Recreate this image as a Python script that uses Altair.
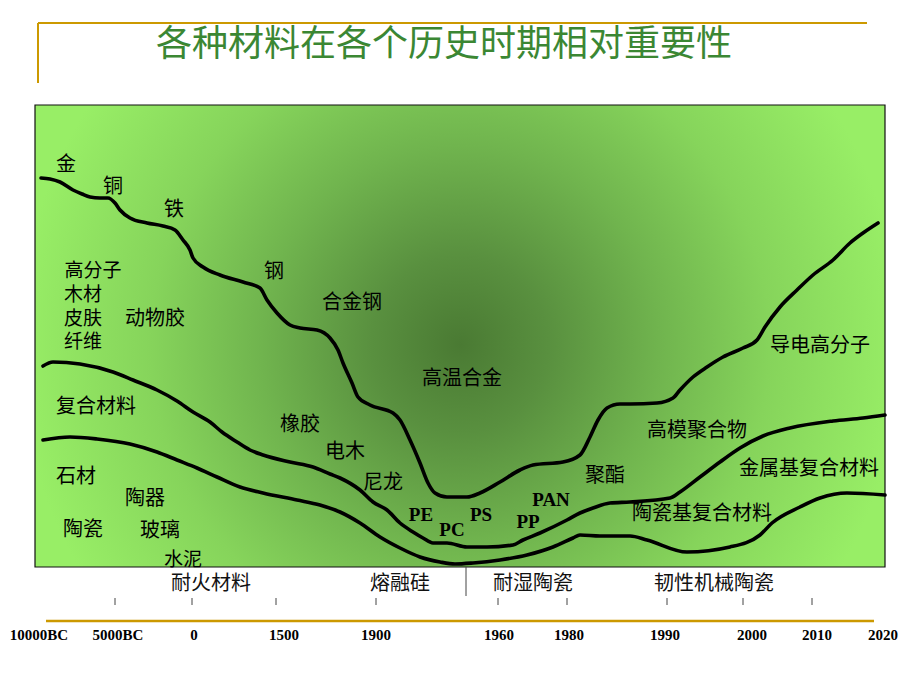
import altair as alt
import pandas as pd

# ---------------- data (x = timeline position, y = relative importance) ----------------
metal_x = [6, 15, 25, 38, 47, 55, 65, 73, 80, 85, 95, 112, 128, 140, 148, 155, 158, 168, 185, 208,
           225, 232, 242, 255, 265, 282, 295, 303, 308, 317, 323, 335, 358, 365, 375, 385, 393, 400,
           412, 432, 445, 465, 485, 498, 528, 545, 555, 563, 572, 585, 595, 622, 638, 645, 658, 672,
           688, 708, 722, 730, 745, 762, 778, 798, 815, 828, 843]
metal_y = [389, 388, 385, 377, 373, 370, 369, 369, 364, 357, 349, 344, 341, 337, 327, 317, 309, 300,
           292, 285, 279, 267, 254, 242, 239, 237, 229, 217, 204, 184, 170, 162, 154, 147, 127, 104,
           84, 74, 70, 70, 74, 85, 97, 102, 105, 112, 130, 147, 159, 163, 163, 164, 169, 177, 190,
           200, 210, 219, 227, 240, 260, 277, 292, 307, 324, 334, 344]

poly_x = [8, 18, 45, 78, 98, 122, 142, 158, 175, 187, 202, 215, 228, 255, 278, 295, 305, 325, 338,
          352, 365, 378, 388, 398, 412, 432, 452, 478, 488, 505, 532, 545, 558, 575, 595, 635, 645,
          665, 685, 705, 728, 755, 798, 828, 850]
poly_y = [201, 205, 203, 195, 187, 177, 166, 155, 145, 135, 125, 117, 112, 105, 100, 93, 89, 77, 65,
          57, 44, 35, 29, 24, 24, 20, 20, 22, 27, 34, 47, 54, 59, 64, 65, 69, 75, 90, 105, 119, 131,
          139, 146, 149, 152]

cer_x = [8, 35, 62, 95, 122, 142, 162, 182, 205, 228, 262, 285, 305, 325, 345, 365, 385, 405, 420,
         438, 465, 492, 518, 538, 545, 565, 595, 612, 652, 695, 725, 737, 765, 785, 812, 850]
cer_y = [127, 130, 128, 123, 115, 107, 99, 90, 80, 74, 67, 62, 55, 44, 30, 19, 10, 5, 3, 4, 7, 12,
         20, 29, 32, 31, 31, 27, 15, 20, 32, 44, 60, 69, 74, 72]

cjk_labels = ["金", "铜", "铁", "钢", "合金钢", "高温合金", "动物胶",
              "复合材料", "橡胶", "电木", "尼龙", "聚酯", "高模聚合物", "导电高分子", "金属基复合材料",
              "陶瓷基复合材料", "石材", "陶器", "陶瓷", "玻璃"]
cjk_x = [31, 78, 139, 239, 317, 427, 120, 61, 265, 310, 348, 570, 662, 785, 774,
         667, 41, 110, 48, 125]
cjk_y = [402, 380, 357, 295, 264, 188, 248, 160, 142, 115, 84, 91, 136, 221, 98,
         53, 90, 68, 37, 36]

stack_labels = ["高分子", "木材", "皮肤", "纤维", "水泥"]
stack_x = [58, 48, 48, 48, 148]
stack_y = [296, 272, 248, 225, 7]

latin_labels = ["PE", "PC", "PS", "PP", "PAN"]
latin_x = [386, 417, 446, 493, 516]
latin_y = [52, 37, 52, 45, 67]

tick_x = [80, 157, 241, 341, 463, 532, 632, 708, 777]
year_labels = ["10000BC", "5000BC", "0", "1500", "1900", "1960", "1980", "1990", "2000", "2010", "2020"]
year_x = [4, 83, 159, 249, 341, 464, 534, 630, 717, 782, 848]

era_labels = ["耐火材料", "熔融硅", "耐湿陶瓷", "韧性机械陶瓷"]
era_x = [176, 365, 498, 679]

title_text = "各种材料在各个历史时期相对重要性"

# ---------------- build ----------------
W, H = 850, 462
xs = alt.Scale(domain=[0, W], nice=False, zero=False)
ys = alt.Scale(domain=[0, H], nice=False, zero=False)

def X(f):
    return alt.X(f, scale=xs, axis=None)

def Y(f):
    return alt.Y(f, scale=ys, axis=None)

curves = pd.concat([
    pd.DataFrame({"curve": "metal", "x": metal_x, "y": metal_y, "o": range(len(metal_x))}),
    pd.DataFrame({"curve": "poly", "x": poly_x, "y": poly_y, "o": range(len(poly_x))}),
    pd.DataFrame({"curve": "cer", "x": cer_x, "y": cer_y, "o": range(len(cer_x))}),
])

one = pd.DataFrame({"a": [0]})

gradient = {
    "gradient": "radial",
    "x1": 0.5, "y1": 0.51, "r1": 0,
    "x2": 0.5, "y2": 0.51, "r2": 0.52,
    "stops": [
        {"offset": 0.0, "color": "#4a7a33"},
        {"offset": 0.2, "color": "#59903f"},
        {"offset": 0.45, "color": "#70b44e"},
        {"offset": 0.7, "color": "#86d45b"},
        {"offset": 1.0, "color": "#98ee66"},
    ],
}

bg = alt.Chart(one).mark_rect(fill=gradient, stroke="#111111", strokeWidth=1.2).encode(
    x=alt.value(0), x2=alt.value(W), y=alt.value(0), y2=alt.value(H)
)

lines = alt.Chart(curves).mark_line(
    color="black", strokeWidth=3.6, strokeCap="round", strokeJoin="round", interpolate="monotone"
).encode(x=X("x:Q"), y=Y("y:Q"), detail="curve:N", order="o:Q")

cjk = alt.Chart(pd.DataFrame({"t": cjk_labels, "x": cjk_x, "y": cjk_y})).mark_text(
    font="Noto Sans CJK SC", fontSize=20, color="black", align="center", baseline="middle"
).encode(x=X("x:Q"), y=Y("y:Q"), text="t:N")

stack = alt.Chart(pd.DataFrame({"t": stack_labels, "x": stack_x, "y": stack_y})).mark_text(
    font="Noto Sans CJK SC", fontSize=19, color="black", align="center", baseline="middle"
).encode(x=X("x:Q"), y=Y("y:Q"), text="t:N")

latin = alt.Chart(pd.DataFrame({"t": latin_labels, "x": latin_x, "y": latin_y})).mark_text(
    font="Liberation Serif", fontSize=19, fontWeight="bold", color="black", align="center",
    baseline="middle"
).encode(x=X("x:Q"), y=Y("y:Q"), text="t:N")

ticks = alt.Chart(pd.DataFrame({"x": tick_x})).mark_rule(color="#444444", strokeWidth=1).encode(
    x=X("x:Q"), y=alt.YDatum(-31, scale=ys, axis=None), y2=alt.Y2Datum(-38)
)

years = alt.Chart(pd.DataFrame({"t": year_labels, "x": year_x})).mark_text(
    font="Liberation Serif", fontSize=15, fontWeight="bold", color="black", align="center",
    baseline="middle"
).encode(x=X("x:Q"), y=alt.YDatum(-68, scale=ys, axis=None), text="t:N")

eras = alt.Chart(pd.DataFrame({"t": era_labels, "x": era_x})).mark_text(
    font="Noto Sans CJK SC", fontSize=20, color="#111111", align="center", baseline="middle"
).encode(x=X("x:Q"), y=alt.YDatum(-17, scale=ys, axis=None), text="t:N")

divider = alt.Chart(one).mark_rule(color="#444444", strokeWidth=1).encode(
    x=alt.XDatum(431, scale=xs, axis=None), y=alt.YDatum(0, scale=ys, axis=None), y2=alt.Y2Datum(-29)
)

gold = "#cc9900"
gold_top = alt.Chart(one).mark_rule(color=gold, strokeWidth=2).encode(
    x=alt.value(3), x2=alt.value(832), y=alt.value(-82)
)
gold_left = alt.Chart(one).mark_rule(color=gold, strokeWidth=2).encode(
    x=alt.value(3), y=alt.value(-82), y2=alt.value(-22)
)
gold_bottom = alt.Chart(one).mark_rule(color=gold, strokeWidth=2.5).encode(
    x=alt.value(11), x2=alt.value(839), y=alt.value(516)
)

title = alt.Chart(pd.DataFrame({"t": [title_text]})).mark_text(
    font="Noto Sans CJK SC", fontSize=36, color="#3b8733", align="center", baseline="middle"
).encode(x=alt.value(409), y=alt.value(-60), text="t:N")

chart = alt.layer(
    bg, lines, cjk, stack, latin, ticks, years, eras, divider, gold_top, gold_left, gold_bottom, title
).properties(
    width=W, height=H,
    autosize=alt.AutoSizeParams(type="none"),
    padding={"left": 35, "top": 105, "right": 35, "bottom": 123},
    background="white",
).configure_view(stroke=None)

chart.save("out.html", embed_options={"renderer": "svg", "actions": False})
